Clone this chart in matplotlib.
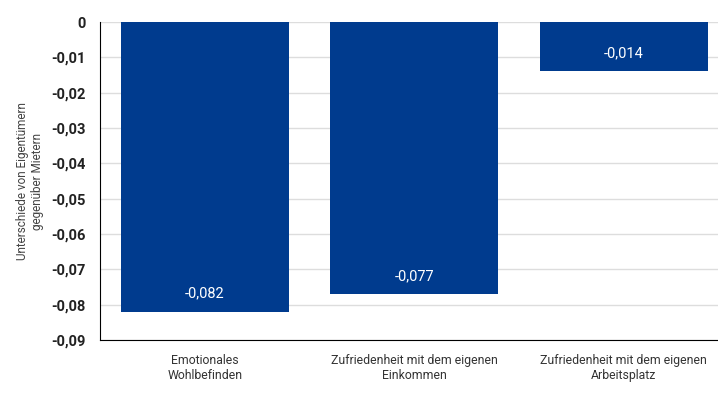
import matplotlib.pyplot as plt
import numpy as np

categories = ['Emotionales\nWohlbefinden',
              'Zufriedenheit mit dem eigenen\nEinkommen',
              'Zufriedenheit mit dem eigenen\nArbeitsplatz']
values = [-0.082, -0.077, -0.014]
yticks = [0, -0.01, -0.02, -0.03, -0.04, -0.05, -0.06, -0.07, -0.08, -0.09]

plt.rcParams['font.family'] = ['Roboto', 'DejaVu Sans']

fig = plt.figure(figsize=(7.18, 3.93), dpi=100)
ax = fig.add_axes([100 / 718, 1 - 340 / 393, 618 / 718, 318 / 393])

x = np.arange(len(categories))
ax.bar(x, values, width=0.8, color='#003B8E', zorder=3)

for xi, v in zip(x, values):
    ax.annotate(f'{v:.3f}'.replace('.', ','), (xi, v), xytext=(0, 13),
                textcoords='offset points', ha='center', va='center',
                color='white', fontsize=10.5, zorder=4)

ax.set_xlim(-0.5, 2.45)
ax.set_ylim(-0.09, 0)
ax.set_yticks(yticks)
ax.set_yticklabels(['0' if t == 0 else f'{t:.2f}'.replace('.', ',') for t in yticks],
                   fontsize=10.5, fontweight='bold', color='#222222')
ax.set_xticks(x)
ax.set_xticklabels(categories, fontsize=8.8, color='#333333')
ax.tick_params(axis='y', length=0, pad=10)
ax.tick_params(axis='x', length=0, pad=10)
ax.yaxis.grid(True, color='#dddddd', linewidth=1, zorder=0)

for s in ['top', 'right']:
    ax.spines[s].set_visible(False)
ax.spines['left'].set_color('black')
ax.spines['bottom'].set_color('black')

fig.text(30 / 718, 1 - 181 / 393, 'Unterschiede von Eigentümern\ngegenüber Mietern',
         rotation=90, ha='center', va='center', fontsize=8.5, color='#444444')

fig.savefig('out.png', dpi=100)
